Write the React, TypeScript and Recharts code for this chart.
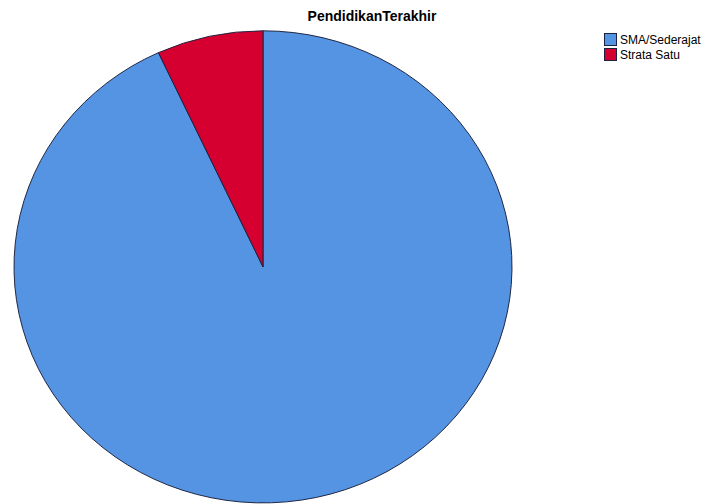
import { PieChart, Pie, Cell } from "recharts"

const categories = ["SMA/Sederajat", "Strata Satu"]
const counts = [27, 2]
const colors = ["#5594E3", "#D5002F"]
const title = "PendidikanTerakhir"

const data = categories.map((name, i) => ({ name, value: counts[i] }))

// the original pie is slightly squashed vertically
const squash = 0.948

export default function App() {
  return (
    <div
      style={{
        position: "absolute",
        left: 0,
        top: 0,
        width: 722,
        height: 504,
        overflow: "hidden",
        background: "#fff",
        fontFamily: "'Liberation Sans', Arial, sans-serif",
      }}
    >
      <div
        style={{
          position: "absolute",
          left: 0,
          top: 0,
          transform: `scaleY(${squash})`,
          transformOrigin: "0 0",
        }}
      >
        <PieChart width={722} height={560} margin={{ top: 0, right: 0, bottom: 0, left: 0 }}>
          <Pie
            data={data}
            dataKey="value"
            nameKey="name"
            cx={263}
            cy={281.5}
            outerRadius={249}
            startAngle={90}
            endAngle={-270}
            stroke="#1c2340"
            strokeWidth={1}
            isAnimationActive={false}
          >
            {data.map((d, i) => (
              <Cell key={d.name} fill={colors[i]} />
            ))}
          </Pie>
        </PieChart>
      </div>
      <div
        style={{
          position: "absolute",
          left: 222,
          width: 300,
          top: 8,
          textAlign: "center",
          fontWeight: "bold",
          fontSize: 14,
          color: "#000",
        }}
      >
        {title}
      </div>
      <div style={{ position: "absolute", left: 604, top: 32 }}>
        {categories.map((c, i) => (
          <div
            key={c}
            style={{ display: "flex", alignItems: "center", height: 15, fontSize: 12, color: "#000" }}
          >
            <span
              style={{
                display: "inline-block",
                width: 11,
                height: 11,
                background: colors[i],
                border: "1px solid #1c2340",
                marginRight: 3,
              }}
            />
            {c}
          </div>
        ))}
      </div>
    </div>
  )
}
